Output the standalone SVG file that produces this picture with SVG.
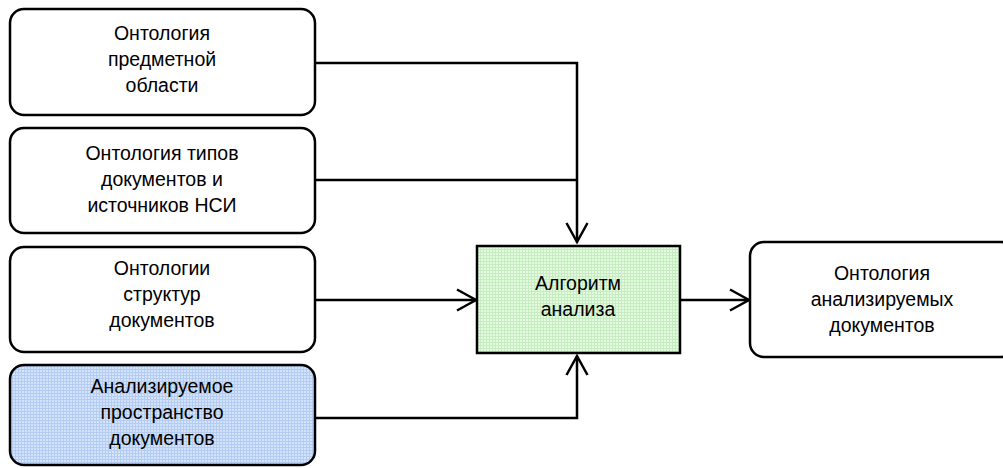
<svg xmlns="http://www.w3.org/2000/svg" width="1003" height="468" viewBox="0 0 1003 468">
<style>
.box{stroke:#000;stroke-width:2.5}
.t{font-family:"Liberation Sans",Arial,sans-serif;font-size:19.5px;fill:#000;text-anchor:middle}
.c{fill:none;stroke:#000;stroke-width:2.5}
</style>
<defs>
<pattern id="pb" width="3" height="3" patternUnits="userSpaceOnUse">
<rect width="3" height="3" fill="#d3e3fb"/>
<path d="M0 0.5H3M0.5 0V3" stroke="#b5ccf2" stroke-width="1"/>
</pattern>
<pattern id="pg" width="3" height="3" patternUnits="userSpaceOnUse">
<rect width="3" height="3" fill="#e3f9e0"/>
<path d="M0 0.5H3M0.5 0V3" stroke="#c5edc0" stroke-width="1"/>
</pattern>
<marker id="ah" markerWidth="24" markerHeight="26" refX="20" refY="12" orient="auto" markerUnits="userSpaceOnUse">
<path d="M1 1.5L20 12L1 22.5" fill="none" stroke="#000" stroke-width="2.5"/>
</marker>
</defs>
<g id="connectors">
<path class="c" d="M315 63H577V242" marker-end="url(#ah)"/>
<path class="c" d="M315 180H577"/>
<path class="c" d="M315 300H476" marker-end="url(#ah)"/>
<path class="c" d="M315 418H577V356" marker-end="url(#ah)"/>
<path class="c" d="M680 300H749" marker-end="url(#ah)"/>
</g>
<g id="n1">
<rect class="box" x="10" y="9" width="305" height="106" rx="14" fill="#fff"/>
<text class="t" x="162" y="40">Онтология</text>
<text class="t" x="162" y="66">предметной</text>
<text class="t" x="162" y="92">области</text>
</g>
<g id="n2">
<rect class="box" x="10" y="128" width="305" height="105" rx="14" fill="#fff"/>
<text class="t" x="162" y="160">Онтология типов</text>
<text class="t" x="162" y="186">документов и</text>
<text class="t" x="162" y="212">источников НСИ</text>
</g>
<g id="n3">
<rect class="box" x="10" y="247" width="305" height="105" rx="14" fill="#fff"/>
<text class="t" x="162" y="275">Онтологии</text>
<text class="t" x="162" y="301">структур</text>
<text class="t" x="162" y="327">документов</text>
</g>
<g id="n4">
<rect class="box" x="10" y="365" width="305" height="100" rx="14" fill="url(#pb)"/>
<text class="t" x="162" y="393">Анализируемое</text>
<text class="t" x="162" y="419">пространство</text>
<text class="t" x="162" y="445">документов</text>
</g>
<g id="n5">
<rect class="box" x="477" y="246" width="203" height="107" fill="url(#pg)"/>
<text class="t" x="578" y="290">Алгоритм</text>
<text class="t" x="578" y="316">анализа</text>
</g>
<g id="n6">
<rect class="box" x="750" y="242" width="265" height="115" rx="14" fill="#fff"/>
<text class="t" x="882" y="280">Онтология</text>
<text class="t" x="882" y="306">анализируемых</text>
<text class="t" x="882" y="332">документов</text>
</g>
</svg>
